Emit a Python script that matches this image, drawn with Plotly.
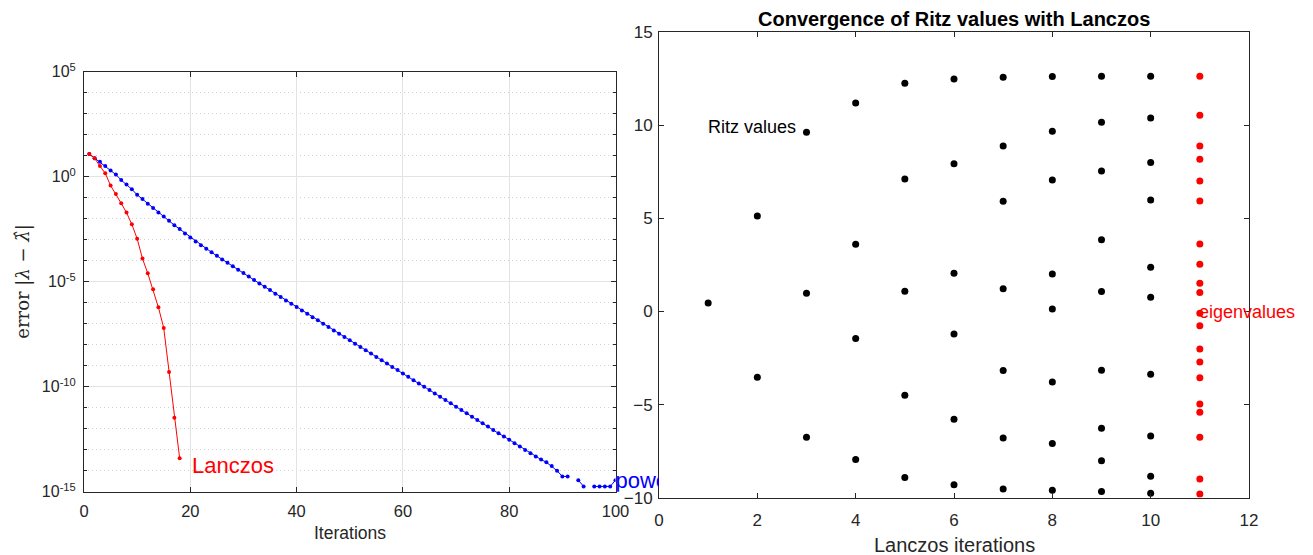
import plotly.graph_objects as go

# ---------------- data: left panel (errors vs iterations) ----------------
iter_lanczos = list(range(1, 19))
err_lanczos = [1.2e1, 7.5, 3.2, 1.45, 3.8e-1, 1.5e-1, 5.4e-2, 1.95e-2, 5.4e-3,
               1.12e-3, 1.26e-4, 2.5e-5, 4.4e-6, 6.0e-7, 6.3e-8, 5.0e-10,
               3.3e-12, 3.9e-14]

iter_power = list(range(1, 101))
err_power = [
    1.2e1, 7.6, 5.2, 3.2, 2.0, 1.26, 6.9e-1, 4.2e-1, 2.5e-1, 1.38e-1,
    8.7e-2, 5.1e-2, 3.2e-2, 2.0e-2, 1.29e-2, 7.9e-3, 4.9e-3, 3.2e-3, 2.0e-3, 1.29e-3,
    8.3e-4, 5.5e-4, 3.7e-4, 2.5e-4, 1.7e-4, 1.15e-4, 7.9e-5, 5.5e-5, 3.7e-5, 2.6e-5,
    1.78e-5, 1.2e-5, 8.3e-6, 5.75e-6, 4.0e-6, 2.7e-6, 1.86e-6, 1.29e-6, 8.9e-7, 6.2e-7,
    4.3e-7, 2.95e-7, 2.04e-7, 1.45e-7, 1.0e-7, 6.9e-8, 4.8e-8, 3.3e-8, 2.35e-8, 1.62e-8,
    1.12e-8, 7.8e-9, 5.4e-9, 3.8e-9, 2.63e-9, 1.82e-9, 1.26e-9, 8.7e-10, 6.2e-10, 4.3e-10,
    2.95e-10, 2.04e-10, 1.41e-10, 1.0e-10, 6.9e-11, 4.8e-11, 3.3e-11, 2.3e-11, 1.62e-11, 1.12e-11,
    7.8e-12, 5.4e-12, 3.7e-12, 2.63e-12, 1.82e-12, 1.26e-12, 8.7e-13, 6.0e-13, 4.3e-13, 2.95e-13,
    2.04e-13, 1.41e-13, 9.8e-14, 6.8e-14, 4.7e-14, 3.4e-14, 2.5e-14, 1.66e-14, 1.0e-14, 5.33e-15,
    5.33e-15, None, 3.55e-15, 1.78e-15, None, 1.78e-15, 1.78e-15, 1.78e-15, 1.78e-15, 3.55e-15,
]

left_xticks = [0, 20, 40, 60, 80, 100]
left_yticks = [1e-15, 1e-10, 1e-5, 1e0, 1e5]
left_yticklabels = ["10<sup>-15</sup>", "10<sup>-10</sup>", "10<sup>-5</sup>",
                    "10<sup>0</sup>", "10<sup>5</sup>"]
left_minor_y = [10.0 ** k for k in range(-15, 6)]

# ---------------- data: right panel (Ritz values) ----------------
ritz_1 = [0.46]
ritz_2 = [5.13, -3.53]
ritz_3 = [9.63, 0.98, -6.75]
ritz_4 = [11.2, 3.61, -1.45, -7.95]
ritz_5 = [12.26, 7.12, 1.09, -4.50, -8.92]
ritz_6 = [12.49, 7.94, 2.06, -1.20, -5.79, -9.31]
ritz_7 = [12.58, 8.89, 5.92, 1.23, -3.17, -6.79, -9.53]
ritz_8 = [12.62, 9.68, 7.07, 2.02, 0.14, -3.78, -7.09, -9.60]
ritz_9 = [12.64, 10.17, 7.55, 3.86, 1.07, -3.15, -6.27, -8.01, -9.67]
ritz_10 = [12.64, 10.40, 8.00, 5.99, 2.38, 0.77, -3.37, -6.68, -8.85, -9.76]
eigenvalues = [12.64, 10.54, 8.89, 8.18, 7.01, 5.94, 3.63, 2.54, 1.52, 1.02,
               -0.09, -0.76, -2.01, -2.71, -3.55, -4.96, -5.41, -6.75, -8.99, -9.80]
eig_column = 11

right_xticks = [0, 2, 4, 6, 8, 10, 12]
right_yticks = [-10, -5, 0, 5, 10, 15]

ritz_all = [ritz_1, ritz_2, ritz_3, ritz_4, ritz_5, ritz_6, ritz_7, ritz_8, ritz_9, ritz_10]
ritz_x, ritz_y = [], []
for k, vals in enumerate(ritz_all, start=1):
    ritz_x += [k] * len(vals)
    ritz_y += vals

# ---------------- layout geometry ----------------
W, H = 1313, 555
L_dom_x = [84 / W, 615.5 / W]
L_dom_y = [1 - 491.7 / H, 1 - 71.7 / H]
R_dom_x = [659 / W, 1249 / W]
R_dom_y = [1 - 497.7 / H, 1 - 32.3 / H]

AX = "#262626"
GRID = "#e3e3e3"
FONT = "Liberation Sans, Arial, sans-serif"

fig = go.Figure()

fig.add_trace(go.Scatter(x=iter_power, y=err_power, mode="lines+markers",
                         line=dict(color="#0000ff", width=1),
                         marker=dict(color="#0000ff", size=4),
                         connectgaps=False, xaxis="x", yaxis="y", showlegend=False))
fig.add_trace(go.Scatter(x=iter_lanczos, y=err_lanczos, mode="lines+markers",
                         line=dict(color="#ff0000", width=1),
                         marker=dict(color="#ff0000", size=4),
                         xaxis="x", yaxis="y", showlegend=False))

# "power" label, clipped at the start of the right axes (as in the reference)
x3_max = 100 * (R_dom_x[0] - L_dom_x[0]) / (L_dom_x[1] - L_dom_x[0])
fig.add_trace(go.Scatter(x=[100], y=[2.6e-15], mode="text", text=["power"],
                         textposition="middle right", cliponaxis=True,
                         textfont=dict(color="#0000ff", size=22, family=FONT),
                         xaxis="x3", yaxis="y3", showlegend=False, hoverinfo="skip"))

fig.add_trace(go.Scatter(x=ritz_x, y=ritz_y, mode="markers",
                         marker=dict(color="#000000", size=7),
                         xaxis="x2", yaxis="y2", showlegend=False))
fig.add_trace(go.Scatter(x=[eig_column] * len(eigenvalues), y=eigenvalues, mode="markers",
                         marker=dict(color="#ff0000", size=7),
                         xaxis="x2", yaxis="y2", showlegend=False))

fig.update_layout(
    width=W, height=H,
    margin=dict(l=0, r=0, t=0, b=0, autoexpand=False),
    paper_bgcolor="white", plot_bgcolor="rgba(0,0,0,0)",
    font=dict(family=FONT, color=AX),
    xaxis=dict(domain=L_dom_x, anchor="y", range=[0, 100], tickvals=left_xticks,
               automargin=False,
               showline=True, mirror="ticks", linecolor=AX, linewidth=1,
               ticks="inside", ticklen=5, tickcolor=AX, tickfont=dict(size=16.5, color=AX),
               showgrid=True, gridcolor=GRID, gridwidth=1, zeroline=False,
               ticklabelstandoff=4),
    yaxis=dict(domain=L_dom_y, anchor="x", type="log", range=[-15, 5],
               automargin=False,
               tickvals=left_yticks, ticktext=left_yticklabels,
               showline=True, mirror="ticks", linecolor=AX, linewidth=1,
               ticks="inside", ticklen=5, tickcolor=AX, tickfont=dict(size=16, color=AX),
               showgrid=True, gridcolor=GRID, gridwidth=1, zeroline=False,
               ticklabelstandoff=4,
               minor=dict(tickvals=left_minor_y, ticks="inside", ticklen=3, tickcolor=AX,
                          showgrid=True, gridcolor="#d0d0d0", griddash="1px,3px", gridwidth=1)),
    xaxis3=dict(domain=[L_dom_x[0], R_dom_x[0]], anchor="y3", range=[0, x3_max],
                visible=False, automargin=False),
    yaxis3=dict(domain=L_dom_y, anchor="x3", type="log", range=[-15, 5],
                visible=False, automargin=False),
    xaxis2=dict(domain=R_dom_x, anchor="y2", range=[0, 12], tickvals=right_xticks,
                automargin=False,
                showline=True, mirror="ticks", linecolor=AX, linewidth=1,
                ticks="inside", ticklen=5, tickcolor=AX, tickfont=dict(size=17, color=AX),
                showgrid=False, zeroline=False, ticklabelstandoff=7),
    yaxis2=dict(domain=R_dom_y, anchor="x2", range=[-10, 15], tickvals=right_yticks,
                automargin=False,
                showline=True, mirror="ticks", linecolor=AX, linewidth=1,
                ticks="inside", ticklen=5, tickcolor=AX, tickfont=dict(size=17, color=AX),
                showgrid=False, zeroline=False, ticklabelstandoff=2),
)

annotations = [
    # left panel labels
    dict(text="Iterations", x=(L_dom_x[0] + L_dom_x[1]) / 2, y=1 - 533 / H,
         xref="paper", yref="paper", showarrow=False, xanchor="center", yanchor="middle",
         font=dict(size=17.5, color=AX, family=FONT)),
    dict(text="error |<i>λ</i> − <i>λ̂</i>|", x=23 / W, y=(L_dom_y[0] + L_dom_y[1]) / 2,
         xref="paper", yref="paper", showarrow=False, textangle=-90,
         xanchor="center", yanchor="middle",
         font=dict(size=18, color=AX, family="DejaVu Serif, Liberation Serif, serif")),
    dict(text="Lanczos", x=20, y=-13.73, xref="x", yref="y", showarrow=False,
         xanchor="left", yanchor="middle", font=dict(size=22, color="#ff0000", family=FONT)),
    # right panel labels
    dict(text="<b>Convergence of Ritz values with Lanczos</b>",
         x=(R_dom_x[0] + R_dom_x[1]) / 2, y=1 - 19 / H, xref="paper", yref="paper",
         showarrow=False, xanchor="center", yanchor="middle",
         font=dict(size=20, color="#000000", family=FONT)),
    dict(text="Lanczos iterations", x=(R_dom_x[0] + R_dom_x[1]) / 2, y=1 - 545 / H,
         xref="paper", yref="paper", showarrow=False, xanchor="center", yanchor="middle",
         font=dict(size=20, color=AX, family=FONT)),
    dict(text="Ritz values", x=3, y=9.9, xref="x2", yref="y2", showarrow=False,
         xanchor="right", yanchor="middle", xshift=-9,
         font=dict(size=18, color="#000000", family=FONT)),
    dict(text="eigenvalues", x=eig_column, y=0, xref="x2", yref="y2", showarrow=False,
         xanchor="left", yanchor="middle", xshift=-3,
         font=dict(size=18, color="#ff0000", family=FONT)),
]
fig.update_layout(annotations=annotations)

fig.write_html("out.html")
